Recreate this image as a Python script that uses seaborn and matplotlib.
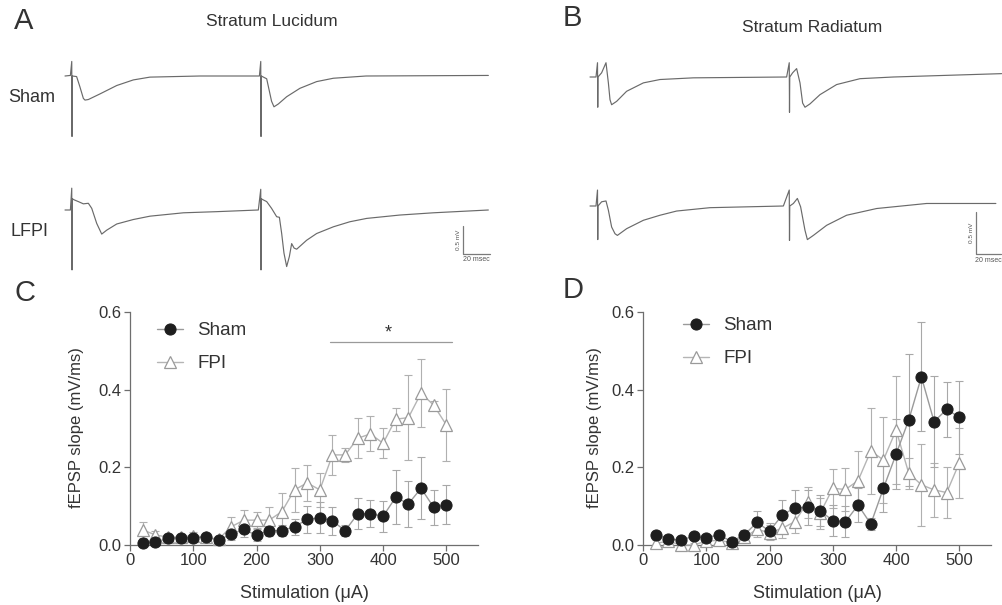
import matplotlib
matplotlib.use("Agg")
import matplotlib.pyplot as plt
import seaborn as sns
import pandas as pd

# ---------------- data ----------------
STIM = [20, 40, 60, 80, 100, 120, 140, 160, 180, 200, 220, 240, 260,
        280, 300, 320, 340, 360, 380, 400, 420, 440, 460, 480, 500]

C_SHAM = [0.006, 0.007, 0.017, 0.019, 0.019, 0.020, 0.013, 0.028, 0.040, 0.025,
          0.037, 0.037, 0.047, 0.066, 0.070, 0.062, 0.037, 0.080, 0.081, 0.074,
          0.123, 0.106, 0.146, 0.097, 0.104]
C_SHAM_ERR = [0.005, 0.005, 0.006, 0.006, 0.008, 0.006, 0.005, 0.015, 0.020, 0.015,
              0.015, 0.015, 0.020, 0.035, 0.040, 0.035, 0.015, 0.040, 0.035, 0.040,
              0.070, 0.060, 0.080, 0.045, 0.050]
C_FPI = [0.039, 0.026, 0.020, 0.021, 0.024, 0.020, 0.015, 0.047, 0.064, 0.064,
         0.064, 0.086, 0.142, 0.160, 0.142, 0.232, 0.232, 0.275, 0.286, 0.262,
         0.324, 0.328, 0.391, 0.360, 0.309]
C_FPI_ERR = [0.020, 0.010, 0.008, 0.008, 0.010, 0.008, 0.006, 0.024, 0.027, 0.020,
             0.034, 0.047, 0.056, 0.047, 0.043, 0.052, 0.019, 0.052, 0.045, 0.039,
             0.030, 0.110, 0.088, 0.010, 0.092]

D_SHAM = [0.027, 0.015, 0.013, 0.022, 0.019, 0.026, 0.009, 0.026, 0.058, 0.036,
          0.077, 0.096, 0.097, 0.088, 0.063, 0.060, 0.103, 0.054, 0.146, 0.234,
          0.322, 0.433, 0.318, 0.349, 0.329]
D_SHAM_ERR = [0.010, 0.008, 0.006, 0.010, 0.008, 0.010, 0.005, 0.012, 0.030, 0.020,
              0.040, 0.045, 0.045, 0.040, 0.040, 0.040, 0.045, 0.015, 0.060, 0.090,
              0.170, 0.140, 0.117, 0.070, 0.094]
D_FPI = [0.004, 0.010, 0.000, 0.000, 0.010, 0.012, 0.006, 0.020, 0.040, 0.032,
         0.043, 0.060, 0.110, 0.082, 0.146, 0.143, 0.166, 0.242, 0.219, 0.296,
         0.185, 0.155, 0.142, 0.135, 0.212]
D_FPI_ERR = [0.008, 0.008, 0.005, 0.005, 0.008, 0.008, 0.005, 0.010, 0.020, 0.020,
             0.025, 0.030, 0.040, 0.040, 0.050, 0.055, 0.077, 0.110, 0.110, 0.140,
             0.040, 0.105, 0.070, 0.065, 0.090]

X_TICKS = [0, 100, 200, 300, 400, 500]
Y_TICKS = [0.0, 0.2, 0.4, 0.6]
SIG_RANGE = [316, 509]
SIG_Y = 0.523
SIG_STAR_X = 408
SIG_STAR_Y = 0.545

# example field-potential traces (time in ms, voltage in mV)
SL_SHAM_T = [0, 4, 5.0, 5.2, 5.4, 8.6, 11, 13.6, 14.8, 17.3, 25.9, 38.3, 50.6, 62.9,
             100, 144, 145.0, 145.2, 145.4, 149.4, 153, 154.8, 158, 164.2, 174,
             186.4, 198.8, 223, 313.6]
SL_SHAM_V = [0, 0.01, 0.26, -1.08, 0.0, -0.01, -0.19, -0.40, -0.43, -0.42, -0.32,
             -0.17, -0.07, -0.02, 0, 0, 0.26, -1.08, 0.0, -0.05, -0.45, -0.55, -0.50,
             -0.37, -0.22, -0.10, -0.04, 0.0, 0.01]
SL_LFPI_T = [0, 4, 5.0, 5.2, 5.4, 6.9, 9.9, 13.6, 17.3, 19.8, 23.5, 27.2, 30.9, 38.3,
             50.6, 63, 87.7, 112, 143.2, 145.0, 145.2, 145.4, 146.9, 149.4, 153,
             156.8, 158.8, 160.5, 162.2, 164.2, 166.2, 167.9, 169.7, 171.6, 179,
             186.4, 198.8, 211, 223.5, 248, 272.8, 313.6]
SL_LFPI_V = [0, 0, 0.39, -1.07, 0.20, 0.18, 0.15, 0.11, 0.12, 0.03, -0.24, -0.43,
             -0.36, -0.25, -0.17, -0.11, -0.05, -0.03, 0, 0.37, -1.07, 0.20, 0.18,
             0.15, 0.03, -0.12, -0.13, -0.42, -0.77, -1.01, -0.83, -0.60, -0.68,
             -0.70, -0.54, -0.42, -0.30, -0.21, -0.15, -0.09, -0.05, 0.0]
SR_SHAM_T = [0, 4.8, 6.0, 6.2, 6.4, 9.3, 12.8, 14.7, 16, 17.3, 21.3, 29.3, 42.7, 56,
             82.7, 157.3, 159.4, 159.6, 159.8, 162.1, 165.3, 168, 170.1, 172, 176,
             184, 197.3, 216, 242.7, 329.3]
SR_SHAM_V = [0, 0, 0.17, -0.36, 0.0, 0.05, 0.17, -0.07, -0.27, -0.33, -0.29, -0.17,
             -0.07, -0.03, -0.01, 0, 0.17, -0.42, 0.0, 0.05, 0.10, -0.07, -0.31,
             -0.36, -0.32, -0.21, -0.09, -0.02, 0, 0.04]
SR_LFPI_T = [0, 4.8, 6.0, 6.2, 6.4, 9.3, 12.8, 14.7, 17.3, 20, 21.9, 29.3, 42.7, 56,
             69.3, 96, 154.7, 159.4, 159.6, 159.8, 162.7, 165.9, 168.5, 172, 173.9,
             178.7, 189.3, 205.3, 229.3, 269.3, 324.7]
SR_LFPI_V = [0, 0, 0.19, -0.40, 0.0, 0.05, 0.06, -0.05, -0.25, -0.33, -0.35, -0.27,
             -0.17, -0.11, -0.06, -0.02, 0, 0.19, -0.41, 0.0, 0.03, 0.09, -0.01,
             -0.29, -0.40, -0.35, -0.23, -0.11, -0.03, 0.03, 0.03]
SCALE_MS = 20
SCALE_MV = 0.5

# ---------------- style ----------------
sns.set_style("ticks")
plt.rcParams["font.family"] = ["Liberation Sans", "DejaVu Sans"]
TXT = "#333333"
SPINE = "#6e6e6e"
plt.rcParams.update({
    "text.color": TXT, "axes.labelcolor": TXT,
    "xtick.color": SPINE, "ytick.color": SPINE,
    "xtick.labelcolor": TXT, "ytick.labelcolor": TXT,
})

W, H = 1003, 605
fig = plt.figure(figsize=(W / 100, H / 100), dpi=100)


def px_axes(l, t, r, b):
    return fig.add_axes([l / W, 1 - b / H, (r - l) / W, (b - t) / H])


def ftext(x, y, s, **kw):
    fig.text(x / W, 1 - y / H, s, **kw)


# ---------------- trace panels ----------------
def trace_panel(box, x0px, pxms, y0px, pxmv, traces, offset2, bar_px):
    l, t, r, b = box
    ax = px_axes(l, t, r, b)
    ax.set_xlim((l - x0px) / pxms, (r - x0px) / pxms)
    ax.set_ylim((y0px - b) / pxmv, (y0px - t) / pxmv)
    ax.axis("off")
    for (tt, vv), off in zip(traces, [0.0, offset2]):
        df = pd.DataFrame({"t": tt, "v": [v + off for v in vv]})
        sns.lineplot(data=df, x="t", y="v", ax=ax, sort=False, color="#6a6a6a",
                     lw=0.85, estimator=None)
    bx = (bar_px[0] - x0px) / pxms
    by = (y0px - bar_px[1]) / pxmv
    ax.plot([bx, bx, bx + SCALE_MS], [by + SCALE_MV, by, by], color="#7a7a7a", lw=0.9,
            clip_on=False)
    ax.text(bx - 1.5, by + SCALE_MV / 2, f"{SCALE_MV} mV", rotation=90, ha="right",
            va="center", fontsize=4.6, color="#555")
    ax.text(bx + SCALE_MS / 2, by - 0.04, f"{SCALE_MS} msec", ha="center", va="top",
            fontsize=5.0, color="#555")
    return ax


trace_panel((55, 40, 500, 280), 65, 1.35, 76, 56,
            [(SL_SHAM_T, SL_SHAM_V), (SL_LFPI_T, SL_LFPI_V)], -(210 - 76) / 56,
            (463, 254))
trace_panel((580, 40, 1003, 280), 590, 1.25, 77, 84,
            [(SR_SHAM_T, SR_SHAM_V), (SR_LFPI_T, SR_LFPI_V)], -(206 - 77) / 84,
            (976, 254))

ftext(24, 21, "A", fontsize=21, ha="center", va="center")
ftext(572, 18, "B", fontsize=21, ha="center", va="center")
ftext(272, 21, "Stratum Lucidum", fontsize=12.5, ha="center", va="center")
ftext(812, 27, "Stratum Radiatum", fontsize=12.5, ha="center", va="center")
ftext(32, 97, "Sham", fontsize=13, ha="center", va="center")
ftext(30, 232, "LFPI", fontsize=13, ha="center", va="center")


# ---------------- summary panels ----------------
def summary(box, sham, sham_err, fpi, fpi_err, leg_xy):
    ax = px_axes(*box)
    df = pd.DataFrame({"stim": STIM, "sham": sham, "fpi": fpi})
    ax.errorbar(STIM, fpi, yerr=fpi_err, fmt="none", ecolor="#b0b0b0", elinewidth=0.8,
                capsize=3, capthick=0.8, zorder=2, clip_on=False)
    ax.errorbar(STIM, sham, yerr=sham_err, fmt="none", ecolor="#a8a8a8", elinewidth=0.8,
                capsize=3, capthick=0.8, zorder=3, clip_on=False)
    sns.lineplot(data=df, x="stim", y="fpi", ax=ax, color="#b5b5b5", lw=1,
                 marker="^", markersize=8.5, markerfacecolor="white",
                 markeredgecolor="#9a9a9a", markeredgewidth=0.9, label="FPI",
                 zorder=4, clip_on=False)
    sns.lineplot(data=df, x="stim", y="sham", ax=ax, color="#9a9a9a", lw=1,
                 marker="o", markersize=8, markerfacecolor="#1e1e1e",
                 markeredgecolor="#1e1e1e", label="Sham", zorder=5, clip_on=False)
    ax.set_xlim(0, 550)
    ax.set_ylim(0, 0.6)
    ax.set_xticks(X_TICKS)
    ax.set_yticks(Y_TICKS)
    ax.set_yticklabels([f"{v:.1f}" for v in Y_TICKS])
    ax.tick_params(labelsize=12, length=4, width=0.9, pad=2)
    ax.set_xlabel("")
    ax.set_ylabel("")
    for side in ("top", "right"):
        ax.spines[side].set_visible(False)
    for side in ("left", "bottom"):
        ax.spines[side].set_color(SPINE)
        ax.spines[side].set_linewidth(0.9)
    h, lab = ax.get_legend_handles_labels()
    ax.legend(h[::-1], lab[::-1], loc="upper left", bbox_to_anchor=leg_xy,
              frameon=False, fontsize=13.5, handlelength=1.4, handletextpad=0.75,
              labelspacing=0.85, borderpad=0, borderaxespad=0)
    return ax


axC = summary((130, 312, 478, 545), C_SHAM, C_SHAM_ERR, C_FPI, C_FPI_ERR,
              ((157 - 130) / 348, 1 - (322 - 312) / 233))
axC.plot(SIG_RANGE, [SIG_Y, SIG_Y], color="#9a9a9a", lw=0.9, clip_on=False)
axC.text(SIG_STAR_X, SIG_STAR_Y, "*", ha="center", va="center", fontsize=13, color=TXT)

axD = summary((643, 312, 991, 545), D_SHAM, D_SHAM_ERR, D_FPI, D_FPI_ERR,
              ((683 - 643) / 348, 1 - (317 - 312) / 233))

ftext(25, 293, "C", fontsize=21, ha="center", va="center")
ftext(573, 290, "D", fontsize=21, ha="center", va="center")
ftext(77, 428, "fEPSP slope (mV/ms)", fontsize=12, rotation=90, ha="center", va="center")
ftext(595, 428, "fEPSP slope (mV/ms)", fontsize=12, rotation=90, ha="center", va="center")
ftext(304, 593, "Stimulation (μA)", fontsize=13, ha="center", va="center")
ftext(817, 593, "Stimulation (μA)", fontsize=13, ha="center", va="center")

fig.savefig("out.png", dpi=100)
